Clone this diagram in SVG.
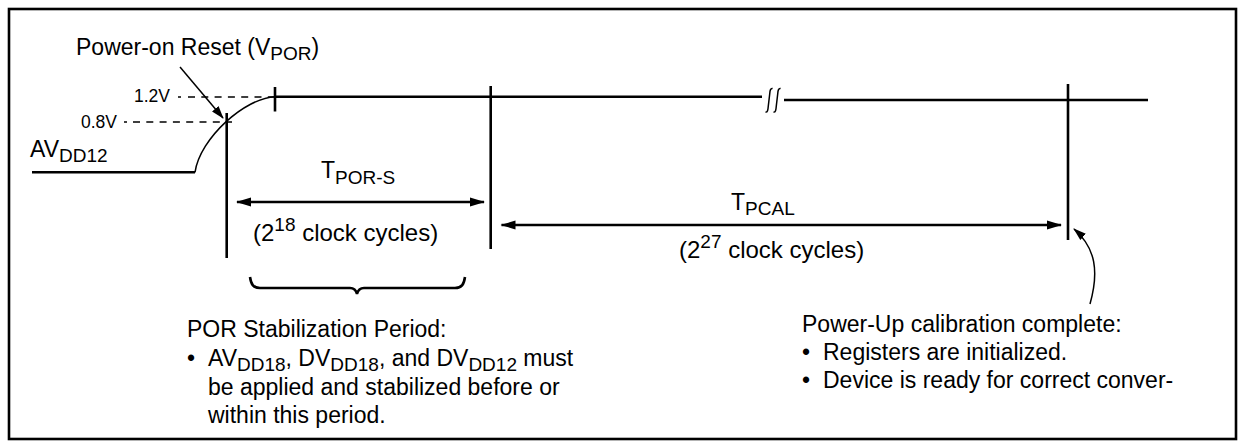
<svg xmlns="http://www.w3.org/2000/svg" width="1245" height="448" viewBox="0 0 1245 448">
<style>
text{font-family:"Liberation Sans",Arial,Helvetica,sans-serif;font-size:23px;fill:#000}
.lbl{font-size:17.5px}
.cyc{font-size:24px}
.sub{font-size:19px}
.w{stroke:#000;stroke-width:2.6;fill:none}
.thin{stroke:#000;stroke-width:1.5;fill:none}
.dash{stroke:#000;stroke-width:1.5;stroke-dasharray:7 6.3;fill:none}
.arr{stroke:#000;stroke-width:2.6;fill:none;marker-start:url(#ah);marker-end:url(#ah)}
</style>
<defs>
<marker id="ah" markerUnits="userSpaceOnUse" markerWidth="16" markerHeight="10" viewBox="0 0 16 10" refX="14" refY="5" orient="auto-start-reverse"><path d="M0,0.5 L15,5 L0,9.5 z" fill="#000"/></marker>
<marker id="as" markerUnits="userSpaceOnUse" markerWidth="14" markerHeight="10" viewBox="0 0 14 10" refX="12" refY="5" orient="auto"><path d="M0,0.8 L13,5 L0,9.2 z" fill="#000"/></marker>
</defs>
<rect id="frame" x="9" y="9" width="1227" height="430" fill="#fff" stroke="#000" stroke-width="2.6"/>

<g id="signal">
<path class="w" d="M32,172.3 L195,172.3"/>
<path class="thin" d="M195,172.3 C200,138 245,98 275,96.7"/>
<path class="w" d="M275,96.7 L762,96.7"/>
<path class="w" d="M784,100 L1148,100"/>
<path class="thin" stroke-width="1.1" d="M765.5,112 C767.5,112.5 768,110 768.3,106 L769.7,94 C770,90 770.6,88 772.6,88.5"/>
<path class="thin" stroke-width="1.1" d="M773.5,112 C775.5,112.5 776,110 776.3,106 L777.7,94 C778,90 778.6,88 780.6,88.5"/>
</g>

<g id="levels">
<text class="lbl" x="170" y="102" text-anchor="end">1.2V</text>
<path class="thin" d="M178,97 L181,97"/>
<path class="dash" d="M188,97 L275,97"/>
<text class="lbl" x="117" y="128" text-anchor="end">0.8V</text>
<path class="thin" d="M124,122 L127,122"/>
<path class="dash" d="M133,122 L232,122"/>
</g>

<g id="markers">
<path class="w" d="M275,87 L275,111.5"/>
<path class="w" d="M226.7,113 L226.7,258"/>
<path class="w" d="M490.7,86 L490.7,249"/>
<path class="w" d="M1068,84 L1068,240"/>
</g>

<g id="avdd12">
<text x="30" y="157">AV<tspan class="sub" dy="5">DD12</tspan></text>
</g>

<g id="vpor">
<text x="76" y="55">Power-on Reset (V<tspan class="sub" dy="5">POR</tspan><tspan dy="-5">)</tspan></text>
</g>

<g id="tpors">
<text x="321" y="178">T<tspan class="sub" dy="6">POR-S</tspan></text>
<text class="cyc" x="253" y="241">(2<tspan class="sub" dy="-10">18</tspan><tspan dy="10"> clock cycles)</tspan></text>
</g>

<g id="tpcal">
<text x="731" y="210">T<tspan class="sub" dy="5">PCAL</tspan></text>
<text class="cyc" x="679" y="258">(2<tspan class="sub" dy="-10">27</tspan><tspan dy="10"> clock cycles)</tspan></text>
</g>

<g id="connectors">
<path class="arr" d="M237,202 L484,202"/>
<path class="arr" d="M501.5,225 L1061,225"/>
<path class="thin" marker-end="url(#as)" d="M180,67 L223,118"/>
<path class="thin" marker-end="url(#as)" d="M1090,304 C1099,272 1096,248 1074,229"/>
</g>

<g id="brace">
<path class="w" d="M250,277 C251,284 253,288 260,288 L350,288 C354,288 356,290 357,294 C358,290 360,288 364,288 L455,288 C462,288 464,284 465,277"/>
</g>

<g id="por-note">
<text x="187" y="337">POR Stabilization Period:</text>
<text x="187" y="366">•</text>
<text x="208" y="366">AV<tspan class="sub" dy="5">DD18</tspan><tspan dy="-5">, DV</tspan><tspan class="sub" dy="5">DD18</tspan><tspan dy="-5">, and DV</tspan><tspan class="sub" dy="5">DD12</tspan><tspan dy="-5"> must</tspan></text>
<text x="208" y="395">be applied and stabilized before or</text>
<text x="208" y="423">within this period.</text>
</g>

<g id="cal-note">
<text x="802" y="332">Power-Up calibration complete:</text>
<text x="802" y="360">•</text>
<text x="823" y="360">Registers are initialized.</text>
<text x="802" y="388">•</text>
<text x="823" y="388">Device is ready for correct conver-</text>
</g>
</svg>
